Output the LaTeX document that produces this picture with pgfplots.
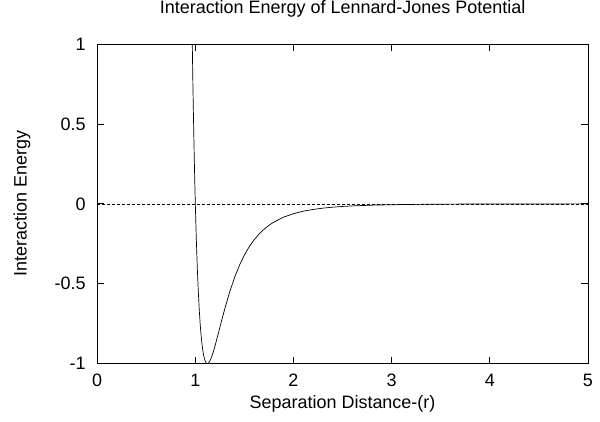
\documentclass[border=0pt]{standalone}
\usepackage{fontspec}
\setmainfont{Liberation Sans}
\usepackage{pgfplots}
\pgfplotsset{compat=1.18}

\begin{document}
\begin{tikzpicture}
\begin{axis}[
  scale only axis, width=490bp, height=319bp,
  xmin=0, xmax=5, ymin=-1, ymax=1,
  xtick={0,1,2,3,4,5}, xticklabels={0,1,2,3,4,5},
  ytick={-1,-0.5,0,0.5,1}, yticklabels={-1,-0.5,0,0.5,1},
  tick align=inside, major tick length=7bp,
  every tick/.style={black, line width=0.8pt},
  axis line style={line width=0.9pt},
  tick label style={font=\fontsize{18}{21}\selectfont},
  label style={font=\fontsize{18}{21}\selectfont},
  xticklabel style={yshift=-7bp},
  yticklabel style={xshift=-8bp},
  title={Interaction Energy of Lennard-Jones Potential},
  title style={font=\fontsize{18}{21}\selectfont, at={(axis description cs:0.5,1.091)}, anchor=center},
  xlabel={Separation Distance-(r)},
  xlabel style={at={(axis description cs:0.5,-0.125)}, anchor=center},
  ylabel={Interaction Energy},
  ylabel style={at={(axis description cs:-0.153,0.5)}, anchor=center},
  clip=true]
  \addplot[black, line width=0.6pt, densely dashed] coordinates {(0,0) (5,0)};
  \addplot[black, line width=0.7pt] coordinates {
    (0.965,1.14) (0.9691,1.0) (0.97,0.9629) (0.975,0.7638) (0.98,0.5819) (0.985,0.4157)
    (0.99,0.2641) (0.995,0.1258) (1.0,0) (1.005,-0.1129) (1.01,-0.2184) (1.02,-0.3979)
    (1.03,-0.5444) (1.04,-0.6629) (1.05,-0.7575) (1.06,-0.8320) (1.07,-0.8893)
    (1.08,-0.9322) (1.09,-0.9629) (1.10,-0.9834) (1.11,-0.9955) (1.12,-0.9998)
    (1.1225,-1.0) (1.13,-0.9986) (1.14,-0.9921) (1.15,-0.9813) (1.16,-0.9679) (1.18,-0.9329)
    (1.20,-0.8910) (1.225,-0.8325) (1.25,-0.7737) (1.275,-0.7146) (1.30,-0.6570)
    (1.35,-0.5516) (1.40,-0.4607) (1.45,-0.3841) (1.5,-0.3203) (1.55,-0.2675)
    (1.6,-0.2242) (1.65,-0.1885) (1.7,-0.1589) (1.75,-0.1344) (1.8,-0.1141)
    (1.9,-0.0832) (2.0,-0.0615) (2.1,-0.0460) (2.2,-0.0350) (2.3,-0.0269)
    (2.4,-0.0208) (2.5,-0.0163) (2.6,-0.0129) (2.8,-0.0083) (3.0,-0.0055)
    (3.25,-0.0034) (3.5,-0.0022) (3.75,-0.0014) (4.0,-0.0010) (4.5,-0.0005) (5.0,-0.0003)};
\end{axis}
\pgfresetboundingbox
\path (current axis.south west) ++(-97bp,-58bp) coordinate (bl);
\path (current axis.north east) ++(12bp,44bp) coordinate (tr);
\path[use as bounding box] (bl) rectangle (tr);
\end{tikzpicture}
\end{document}
